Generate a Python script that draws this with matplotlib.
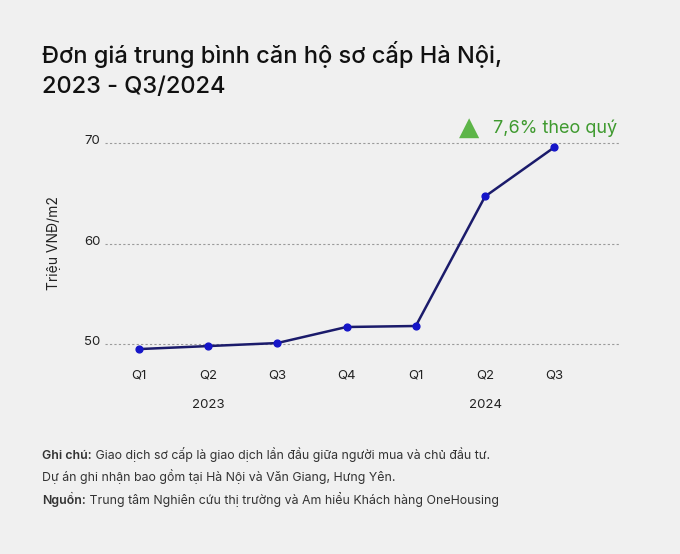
"""Đơn giá trung bình căn hộ sơ cấp Hà Nội, 2023 - Q3/2024."""

import matplotlib.pyplot as plt
from matplotlib.transforms import ScaledTranslation

quarters = ["Q1", "Q2", "Q3", "Q4", "Q1", "Q2", "Q3"]
prices = [49.5, 49.8, 50.1, 51.7, 51.8, 64.7, 69.6]
years = ["2023", "2024"]
year_pos = [1, 5]
yticks = [50, 60, 70]

BG = "#f0f0f0"
FONT = ["Inter", "DejaVu Sans"]
plt.rcParams["font.family"] = FONT

fig = plt.figure(figsize=(6.8, 5.54), dpi=100, facecolor=BG)
ax = fig.add_axes([0.154, 0.359, 0.758, 0.406], facecolor=BG)

x = list(range(len(prices)))
ax.plot(x, prices, color="#1b1b6b", linewidth=1.8, zorder=3)
ax.scatter(x, prices, color="#1515c8", s=24, zorder=4)

ax.set_xlim(-0.49, 6.95)
ax.set_ylim(48.9, 71.3)
for v in yticks:
    ax.axhline(v, color="#9a9a9a", linestyle=(0, (2, 2)), linewidth=0.8, zorder=1)

for s in ax.spines.values():
    s.set_visible(False)
ax.set_yticks(yticks)
ax.set_yticklabels([str(v) for v in yticks], fontsize=9.5, color="#222222",
                   va="bottom")
ax.tick_params(axis="y", length=0, pad=3)
shift = ScaledTranslation(0, -3 / 72, fig.dpi_scale_trans)
for lbl in ax.get_yticklabels():
    lbl.set_transform(lbl.get_transform() + shift)
ax.set_xticks(x)
ax.set_xticklabels(quarters, fontsize=9.5, color="#222222")
ax.tick_params(axis="x", length=0, pad=10)

for p, yr in zip(year_pos, years):
    ax.annotate(yr, xy=(p, 0), xycoords=("data", "axes fraction"),
                xytext=(0, -36), textcoords="offset points",
                ha="center", va="center", fontsize=9.5, color="#222222")

ax.set_ylabel("Triệu VNĐ/m2", fontsize=10, color="#222222", labelpad=17)

# growth annotation
fig.text(469 / 680, 1 - 128 / 554, "\u25B2", fontsize=19, color="#5db548",
         ha="center", va="center", family=["DejaVu Sans"])
fig.text(493 / 680, 1 - 128 / 554, "7,6% theo quý", fontsize=13,
         color="#3f9a2f", ha="left", va="center")

# title
fig.text(42 / 680, 1 - 41 / 554, "Đơn giá trung bình căn hộ sơ cấp Hà Nội,\n2023 - Q3/2024",
         fontsize=17, fontweight="medium", color="#111111",
         ha="left", va="top", linespacing=1.45)

# footnotes
note_kw = dict(fontsize=8.9, color="#333333", va="bottom")
t1 = fig.text(42 / 680, 1 - 462 / 554, "Ghi chú:", fontweight="semibold", **note_kw)
ax.annotate(" Giao dịch sơ cấp là giao dịch lần đầu giữa người mua và chủ đầu tư.",
            xy=(1, 0), xycoords=t1, ha="left", annotation_clip=False, **note_kw)
fig.text(42 / 680, 1 - 484 / 554, "Dự án ghi nhận bao gồm tại Hà Nội và Văn Giang, Hưng Yên.",
         ha="left", **note_kw)
t2 = fig.text(42 / 680, 1 - 507 / 554, "Nguồn:", fontweight="semibold", **note_kw)
ax.annotate(" Trung tâm Nghiên cứu thị trường và Am hiểu Khách hàng OneHousing",
            xy=(1, 0), xycoords=t2, ha="left", annotation_clip=False, **note_kw)

fig.savefig("out.png", dpi=100, facecolor=BG)
